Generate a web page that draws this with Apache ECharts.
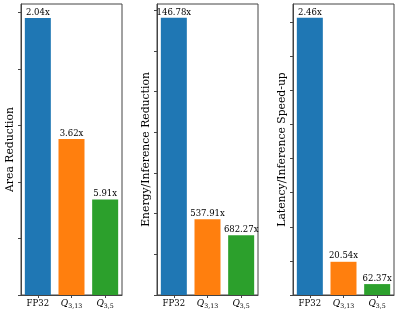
<!DOCTYPE html>
<html>
<head>
<meta charset="utf-8">
<script src="https://cdn.jsdelivr.net/npm/echarts@6/dist/echarts.min.js"></script>
<style>html,body{margin:0;padding:0;background:#fff}#c{width:399px;height:313px}</style>
</head>
<body>
<div id="c"></div>
<script>
var categories = ['FP32', 'Q3,13', 'Q3,5'];
var colors = ['#1f77b4', '#ff7f0e', '#2ca02c'];

var areaValues = [0.490, 0.276, 0.169];
var areaLabels = ['2.04x', '3.62x', '5.91x'];
var areaTicks = [0, 0.1, 0.2, 0.3, 0.4, 0.5];

var energyValues = [0.00681, 0.00186, 0.00147];
var energyLabels = ['146.78x', '537.91x', '682.27x'];
var energyTicks = [0, 0.001, 0.002, 0.003, 0.004, 0.005, 0.006, 0.007];

var latencyValues = [0.4065, 0.0487, 0.0160];
var latencyLabels = ['2.46x', '20.54x', '62.37x'];
var latencyTicks = [0, 0.05, 0.1, 0.15, 0.2, 0.25, 0.3, 0.35, 0.4];

var panels = [
  {name: 'Area Reduction', values: areaValues, labels: areaLabels, ticks: areaTicks, max: 0.5146, left: 21},
  {name: 'Energy/Inference Reduction', values: energyValues, labels: energyLabels, ticks: energyTicks, max: 0.00715, left: 157},
  {name: 'Latency/Inference Speed-up', values: latencyValues, labels: latencyLabels, ticks: latencyTicks, max: 0.4268, left: 293}
];

var serif = 'DejaVu Serif';
var lineColor = '#444';

var option = {grid: [], xAxis: [], yAxis: [], series: [], animation: false};
panels.forEach(function (p, i) {
  option.grid.push({left: p.left, top: 4, width: 101, height: 291, show: true, borderColor: lineColor, borderWidth: 1});
  option.xAxis.push({
    type: 'category', gridIndex: i, data: categories,
    axisLine: {show: true, lineStyle: {color: lineColor}},
    axisTick: {show: true, alignWithLabel: true, interval: 0, length: 3, lineStyle: {color: lineColor}},
    axisLabel: {
      interval: 0, margin: 4, color: '#000', fontFamily: serif, fontSize: 8.5,
      formatter: function (v) {
        if (v === 'FP32') return '{n|FP32}';
        var parts = v.substring(1);
        return '{i|Q}{s|' + parts + '}';
      },
      rich: {
        n: {fontFamily: serif, fontSize: 8.5, color: '#000'},
        i: {fontFamily: serif, fontStyle: 'italic', fontSize: 9, color: '#000'},
        s: {fontFamily: serif, fontSize: 6.3, color: '#000', padding: [4, 0, 0, 0]}
      }
    }
  });
  option.yAxis.push({
    type: 'value', gridIndex: i, min: 0, max: p.max,
    name: p.name, nameLocation: 'middle', nameGap: 5,
    nameTextStyle: {fontFamily: serif, fontSize: 10.8, color: '#000'},
    splitLine: {show: false},
    axisLine: {show: true, lineStyle: {color: lineColor}},
    axisTick: {show: true, length: 3, customValues: p.ticks, lineStyle: {color: lineColor}},
    axisLabel: {show: false}
  });
  option.series.push({
    type: 'bar', xAxisIndex: i, yAxisIndex: i, barWidth: 26,
    data: p.values.map(function (v, j) {
      return {value: v, itemStyle: {color: colors[j]}, label: {formatter: p.labels[j]}};
    }),
    label: {show: true, position: 'top', distance: 1, fontFamily: serif, fontSize: 8.5, color: '#000'}
  });
});

var chart = echarts.init(document.getElementById('c'), null, {renderer: 'canvas'});
chart.setOption(option);
</script>
</body>
</html>
